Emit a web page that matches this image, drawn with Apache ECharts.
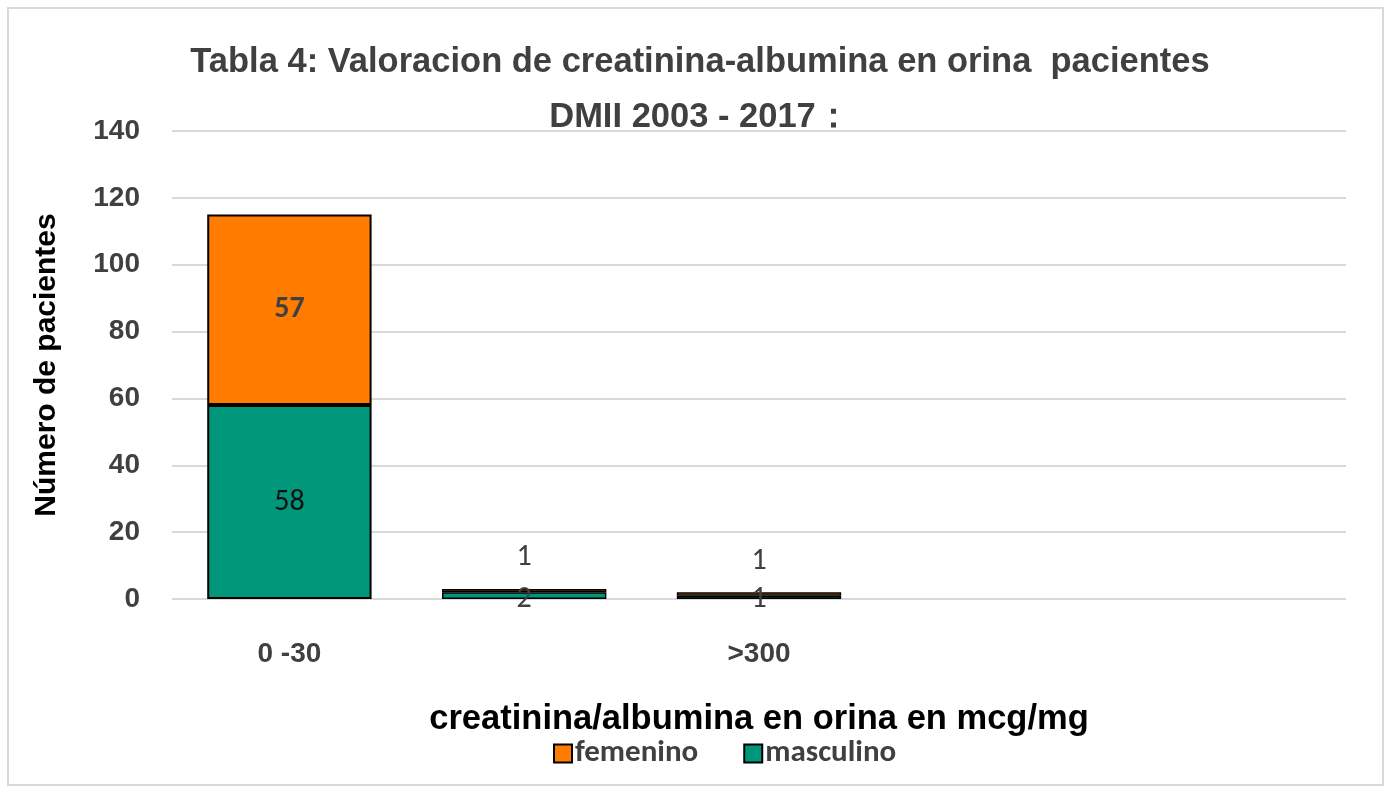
<!DOCTYPE html>
<html><head><meta charset="utf-8">
<script src="https://cdn.jsdelivr.net/npm/echarts@6/dist/echarts.min.js"></script>
<style>html,body{margin:0;padding:0;background:#fff}#c{width:1391px;height:792px}</style>
</head><body><div id="c"></div>
<script>
const categories = ["0 -30", "30 -300", ">300", "", ""];
const masculino = [58, 2, 1, null, null];
const femenino = [57, 1, 1, null, null];
const yTicks = [0, 20, 40, 60, 80, 100, 120, 140];

const chart = echarts.init(document.getElementById('c'));
const lblColor = '#404040';
const font = 'Arial, "Liberation Sans", sans-serif';
const cal = 'Calibri, Carlito, "Open Sans", sans-serif';

function femData() {
  return femenino.map((v, i) => {
    if (v == null) return v;
    if (i === 0) return {value: v, label: {show: true, position: 'inside', fontWeight: 'bold', fontFamily: cal, fontSize: 30, color: lblColor}};
    return {value: v, itemStyle: {borderWidth: 1.5}, label: {show: true, position: 'top', distance: 16, fontSize: 30, color: lblColor, fontFamily: cal}};
  });
}
function mascData() {
  return masculino.map((v, i) => {
    if (v == null) return v;
    if (i === 0) return {value: v, label: {show: true, position: 'inside', fontSize: 30, color: '#111', fontFamily: cal}};
    return {value: v, itemStyle: {borderWidth: 1.5}, label: {show: true, position: 'insideBottom', offset: [0, 20], fontSize: 30, color: lblColor, fontFamily: cal}};
  });
}

chart.setOption({
  backgroundColor: '#fff',
  animation: false,
  graphic: [{type: 'rect', shape: {x: 8, y: 8, width: 1375, height: 777}, style: {fill: 'none', stroke: '#d9d9d9', lineWidth: 2}, silent: true}],
  title: {
    text: 'Tabla 4: Valoracion de creatinina-albumina en orina  pacientes\nDMII 2003 - 2017：',
    left: 695, top: 30, textAlign: 'center',
    textStyle: {fontFamily: font, fontWeight: 'bold', fontSize: 34.5, color: '#404040', lineHeight: 55}
  },
  legend: {
    data: ['femenino', 'masculino'],
    left: 548, top: 733, itemGap: 45, itemWidth: 18, itemHeight: 18,
    textStyle: {fontFamily: cal, fontWeight: 'bold', fontSize: 31, color: lblColor, padding: [0, 0, 0, -2]},
    icon: 'rect',
    itemStyle: {borderColor: '#000', borderWidth: 2}
  },
  grid: {left: 172, right: 45, top: 131, bottom: 193},
  xAxis: {
    type: 'category', data: categories,
    axisLine: {show: false}, axisTick: {show: false},
    axisLabel: {interval: 1, margin: 41, fontFamily: font, fontWeight: 'bold', fontSize: 28, color: lblColor},
    name: 'creatinina/albumina en orina en mcg/mg', nameLocation: 'middle', nameGap: 103,
    nameTextStyle: {fontFamily: font, fontWeight: 'bold', fontSize: 34.5, color: '#000'}
  },
  yAxis: {
    type: 'value', min: 0, max: 140, interval: 20,
    axisLine: {show: false}, axisTick: {show: false},
    axisLabel: {margin: 32, fontFamily: font, fontWeight: 'bold', fontSize: 28, color: lblColor,
      formatter: v => yTicks.includes(v) ? String(v) : ''},
    splitLine: {lineStyle: {color: '#d9d9d9', width: 2}},
    name: 'Número de pacientes', nameLocation: 'middle', nameGap: 110, nameRotate: 90,
    nameTextStyle: {fontFamily: font, fontWeight: 'bold', fontSize: 30, color: '#000'}
  },
  series: [
    {name: 'masculino', type: 'bar', stack: 's', barWidth: '70%', data: mascData(),
      itemStyle: {color: '#00967A', borderColor: '#000', borderWidth: 2}},
    {name: 'femenino', type: 'bar', stack: 's', barWidth: '70%', data: femData(),
      itemStyle: {color: '#FF7C00', borderColor: '#000', borderWidth: 2}}
  ]
});
</script></body></html>
